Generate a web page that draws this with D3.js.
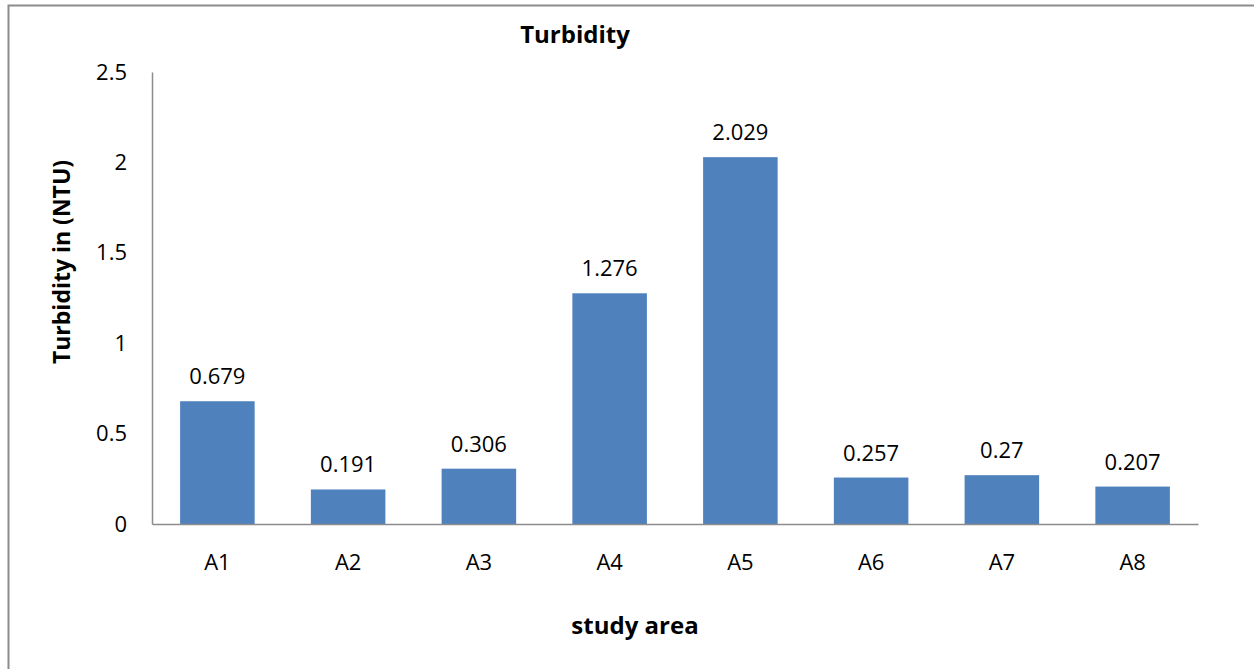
<!DOCTYPE html>
<html>
<head>
<meta charset="utf-8">
<script src="https://cdn.jsdelivr.net/npm/d3@7"></script>
<style>
  html, body { margin: 0; padding: 0; background: #fff; }
  svg { display: block; font-family: "Open Sans", "Liberation Sans", sans-serif; }
</style>
</head>
<body>
<script>
// Turbidity readings per study area (NTU)
const categories = ["A1", "A2", "A3", "A4", "A5", "A6", "A7", "A8"];
const values = [0.679, 0.191, 0.306, 1.276, 2.029, 0.257, 0.27, 0.207];
const yTicks = [0, 0.5, 1, 1.5, 2, 2.5];
const yTickLabels = ["0", "0.5", "1", "1.5", "2", "2.5"];

const W = 1254, H = 669;
const margin = { left: 152, right: 56, top: 72, bottom: 145 };
const FONT = "'Open Sans', 'Liberation Sans', sans-serif";

const svg = d3.select("body").append("svg")
  .attr("width", W).attr("height", H);

// outer frame
svg.append("rect")
  .attr("x", 8.5).attr("y", 5.5)
  .attr("width", W + 20).attr("height", H + 20)
  .attr("fill", "none").attr("stroke", "#8c8c8c").attr("stroke-width", 2);

const x = d3.scaleBand()
  .domain(categories)
  .range([margin.left, W - margin.right])
  .paddingInner(0.43).paddingOuter(0.215);

const y = d3.scaleLinear()
  .domain([0, 2.5])
  .range([H - margin.bottom, margin.top]);

// bars
svg.append("g").selectAll("rect")
  .data(categories)
  .join("rect")
  .attr("x", d => x(d))
  .attr("y", (d, i) => y(values[i]))
  .attr("width", x.bandwidth())
  .attr("height", (d, i) => y(0) - y(values[i]))
  .attr("fill", "#4f81bd");

// value labels
svg.append("g").selectAll("text")
  .data(categories)
  .join("text")
  .attr("x", d => x(d) + x.bandwidth() / 2)
  .attr("y", (d, i) => y(values[i]) - 17)
  .attr("text-anchor", "middle")
  .attr("font-size", 22)
  .attr("fill", "#000")
  .text((d, i) => String(values[i]));

// y axis
const yAxis = d3.axisLeft(y)
  .tickValues(yTicks)
  .tickFormat((d, i) => yTickLabels[i])
  .tickSize(0).tickPadding(25);
const gy = svg.append("g")
  .attr("transform", `translate(${margin.left},0)`)
  .call(yAxis);
gy.select(".domain").attr("stroke", "#8c8c8c").attr("stroke-width", 1.5);
gy.selectAll("text").attr("font-size", 22).attr("fill", "#000")
  .attr("font-family", FONT);

// x axis
const xAxis = d3.axisBottom(x).tickSize(0).tickPadding(30);
const gx = svg.append("g")
  .attr("transform", `translate(0,${y(0)})`)
  .call(xAxis);
gx.select(".domain").attr("stroke", "#8c8c8c").attr("stroke-width", 1.5);
gx.selectAll("text").attr("font-size", 22).attr("fill", "#000")
  .attr("font-family", FONT);

// title
svg.append("text")
  .attr("x", 575).attr("y", 43)
  .attr("text-anchor", "middle")
  .attr("font-size", 24).attr("font-weight", "bold")
  .text("Turbidity");

// axis titles
svg.append("text")
  .attr("x", 635).attr("y", 634)
  .attr("text-anchor", "middle")
  .attr("font-size", 24).attr("font-weight", "bold")
  .text("study area");

svg.append("text")
  .attr("transform", "translate(70,262) rotate(-90)")
  .attr("text-anchor", "middle")
  .attr("font-size", 23).attr("font-weight", "bold")
  .text("Turbidity in (NTU)");
</script>
</body>
</html>
